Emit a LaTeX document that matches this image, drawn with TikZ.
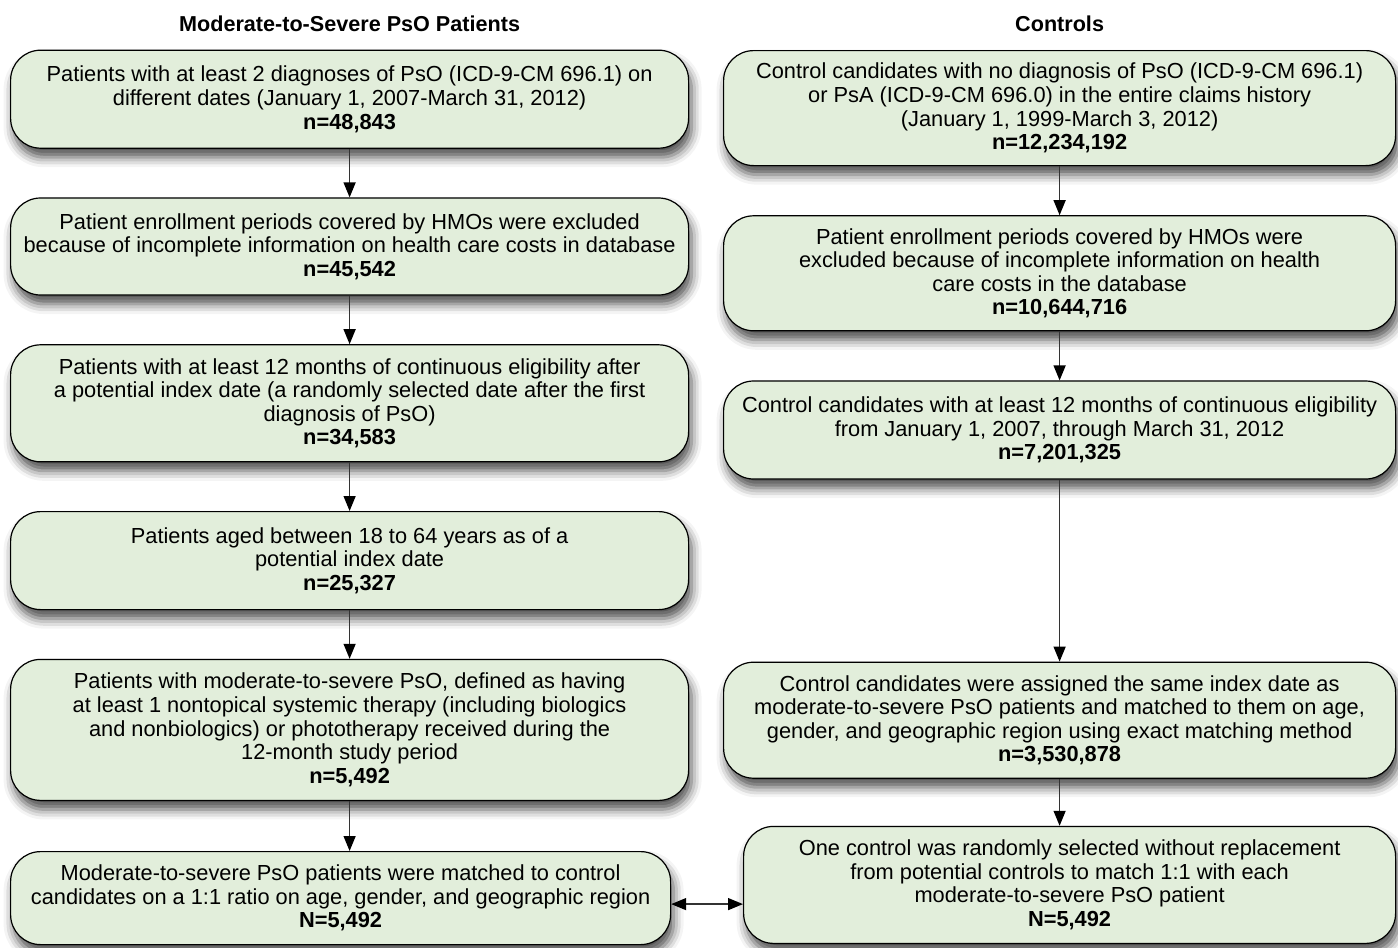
\documentclass[tikz,border=0pt]{standalone}
\usepackage{fontspec}
\setmainfont{Liberation Sans}
\usepackage{tikz}
\usetikzlibrary{positioning,arrows.meta,shadows,shadows.blur}
\definecolor{boxgreen}{RGB}{226,238,219}

\begin{document}
\begin{tikzpicture}[%
        box/.style={draw, line width=0.6pt, fill=boxgreen, rounded corners=15pt,
          align=center, inner sep=3pt, font=\fontsize{10.9}{11.8}\selectfont,
          blur shadow={shadow xshift=1.5pt, shadow yshift=-4.5pt, shadow blur radius=5pt, shadow opacity=70}},
        hdr/.style={font=\fontsize{10.8}{12}\selectfont\bfseries, inner sep=0pt},
        lnk/.style={draw=black!80, line width=0.7pt, -{Triangle[length=7.5pt, width=6pt, color=black]}},
        both/.style={draw=black!80, line width=0.7pt,
          {Triangle[length=7.5pt, width=6pt, color=black]}-{Triangle[length=7.5pt, width=6pt, color=black]}}
        ]
        \useasboundingbox (0,0) rectangle (699pt,-474pt);
        % left column
        \node[box, anchor=north west, minimum width=339pt, minimum height=49pt] (b1) at (5pt,-24.8pt)
          {Patients with at least 2 diagnoses of PsO (ICD-9-CM 696.1) on\\ different dates (January 1, 2007-March 31, 2012)\\ \textbf{n=48,843}};
        \node[box, below=24.3pt of b1, minimum width=339pt, minimum height=48.5pt] (b2)
          {Patient enrollment periods covered by HMOs were excluded\\ because of incomplete information on health care costs in database\\ \textbf{n=45,542}};
        \node[box, below=24.3pt of b2, minimum width=339pt, minimum height=58.5pt] (b3)
          {Patients with at least 12 months of continuous eligibility after\\ a potential index date (a randomly selected date after the first\\ diagnosis of PsO)\\ \textbf{n=34,583}};
        \node[box, below=24.3pt of b3, minimum width=339pt, minimum height=49pt] (b4)
          {Patients aged between 18 to 64 years as of a\\ potential index date\\ \textbf{n=25,327}};
        \node[box, below=24.3pt of b4, minimum width=339pt, minimum height=70.5pt] (b5)
          {Patients with moderate-to-severe PsO, defined as having\\ at least 1 nontopical systemic therapy (including biologics\\ and nonbiologics) or phototherapy received during the\\ 12-month study period\\ \textbf{n=5,492}};
        \node[box, below=25pt of b5.south west, anchor=north west, minimum width=330pt, minimum height=46.5pt] (b6)
          {Moderate-to-severe PsO patients were matched to control\\ candidates on a 1:1 ratio on age, gender, and geographic region\\ \textbf{N=5,492}};
        % right column
        \node[box, anchor=north west, minimum width=336pt, minimum height=57.5pt] (r1) at (361.5pt,-25pt)
          {Control candidates with no diagnosis of PsO (ICD-9-CM 696.1)\\ or PsA (ICD-9-CM 696.0) in the entire claims history\\ (January 1, 1999-March 3, 2012)\\ \textbf{n=12,234,192}};
        \node[box, below=24.5pt of r1, minimum width=336pt, minimum height=57.5pt] (r2)
          {Patient enrollment periods covered by HMOs were\\ excluded because of incomplete information on health\\ care costs in the database\\ \textbf{n=10,644,716}};
        \node[box, below=24.5pt of r2, minimum width=336pt, minimum height=49pt] (r3)
          {Control candidates with at least 12 months of continuous eligibility\\ from January 1, 2007, through March 31, 2012\\ \textbf{n=7,201,325}};
        \node[box, below=91pt of r3, minimum width=336pt, minimum height=58pt] (r4)
          {Control candidates were assigned the same index date as\\ moderate-to-severe PsO patients and matched to them on age,\\ gender, and geographic region using exact matching method\\ \textbf{n=3,530,878}};
        \node[box, below=23.5pt of r4.south east, anchor=north east, minimum width=326pt, minimum height=58.5pt] (r5)
          {One control was randomly selected without replacement\\ from potential controls to match 1:1 with each\\ moderate-to-severe PsO patient\\ \textbf{N=5,492}};
        % headings
        \node[hdr] (hl) at (b1.north |- 0,-12pt) {Moderate-to-Severe PsO Patients};
        \node[hdr] (hr) at (r1.north |- 0,-12pt) {Controls};
        % arrows
        \draw[lnk] (b1) -- (b2);
        \draw[lnk] (b2) -- (b3);
        \draw[lnk] (b3) -- (b4);
        \draw[lnk] (b4) -- (b5);
        \draw[lnk] (b5.south) -- (b5.south |- b6.north);
        \draw[lnk] (r1) -- (r2);
        \draw[lnk] (r2) -- (r3);
        \draw[lnk] (r3) -- (r4);
        \draw[lnk] (r4.south) -- (r4.south |- r5.north);
        \draw[both] ([yshift=-3pt]b6.east) -- ([yshift=-3pt]b6.east -| r5.west);
      \end{tikzpicture}
\end{document}
